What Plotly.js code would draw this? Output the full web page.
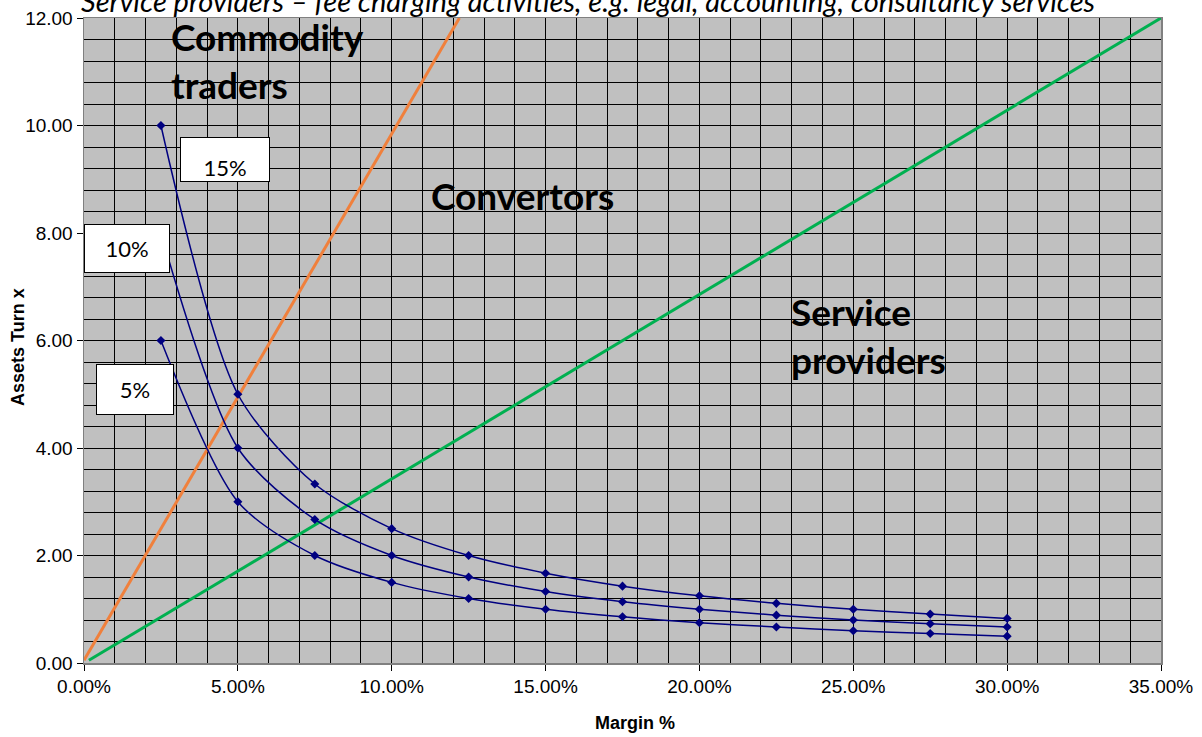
<!DOCTYPE html>
<html><head><meta charset="utf-8">
<script src="https://cdn.plot.ly/plotly-3.0.1.min.js"></script>
<style>body{margin:0;background:#fff}#chart{width:1202px;height:737px}</style>
</head><body><div id="chart"></div>
<script>
const margins = [2.5, 5, 7.5, 10, 12.5, 15, 17.5, 20, 22.5, 25, 27.5, 30];
const turnTop = [10.00, 5.00, 3.33, 2.50, 2.00, 1.67, 1.43, 1.25, 1.11, 1.00, 0.91, 0.83];
const turnMid = [8.00, 4.00, 2.67, 2.00, 1.60, 1.33, 1.14, 1.00, 0.89, 0.80, 0.73, 0.67];
const turnLow = [6.00, 3.00, 2.00, 1.50, 1.20, 1.00, 0.86, 0.75, 0.67, 0.60, 0.55, 0.50];
const orangeX = [0.0, 12.2];
const orangeY = [0.05, 12.0];
const greenX = [0.16, 35];
const greenY = [0.05, 12.0];
const curveLabels = ['15%', '10%', '5%'];
const regionLabels = ['Commodity<br>traders', 'Convertors', 'Service<br>providers'];
const titleText = 'Service providers – fee charging activities, e.g. legal, accounting, consultancy services';
const xTitle = 'Margin %';
const yTitle = 'Assets Turn x';

const navy = '#000080';
function curve(y) {
  return {x: margins, y: y, mode: 'lines+markers', type: 'scatter',
    line: {color: navy, width: 1.5, shape: 'spline', smoothing: 0.8},
    marker: {symbol: 'diamond', size: 7, color: navy}, showlegend: false, hoverinfo: 'skip'};
}
const traces = [
  {x: orangeX, y: orangeY, mode: 'lines', line: {color: '#F0803C', width: 3}, showlegend: false},
  {x: greenX, y: greenY, mode: 'lines', line: {color: '#00B050', width: 3}, showlegend: false},
  {x: greenX, y: greenY, xaxis: 'x2', yaxis: 'y2', mode: 'lines', line: {color: 'rgba(0,0,0,0)', width: 0}, showlegend: false, hoverinfo: 'skip'},
  curve(turnTop), curve(turnMid), curve(turnLow)
];
const boldFont = {family: 'Lato, "Open Sans", sans-serif', size: 37, color: '#000', weight: 700};
const boxFont = {family: 'Lato, "Open Sans", sans-serif', size: 22, color: '#000'};
const tickFont = {family: '"Liberation Sans", Arial, sans-serif', size: 19, color: '#000'};
const axTitleFont = {family: '"Liberation Sans", Arial, sans-serif', size: 18, color: '#000', weight: 700};
const layout = {
  width: 1202, height: 737,
  margin: {l: 84, r: 41, t: 18, b: 74},
  paper_bgcolor: '#fff', plot_bgcolor: '#C0C0C0',
  xaxis: {range: [0, 35], tick0: 0, dtick: 5, tickformat: '.2f', ticksuffix: '%', showgrid: false,
    ticks: 'outside', ticklen: 6, tickcolor: '#000', zeroline: false,
    showline: true, linecolor: '#808080', linewidth: 1.5, mirror: true,
    tickfont: tickFont},
  yaxis: {range: [0, 12], tick0: 0, dtick: 2, tickformat: '.2f', showgrid: false,
    ticks: 'outside', ticklen: 6, tickcolor: '#000', zeroline: false,
    showline: true, linecolor: '#808080', linewidth: 1.5, mirror: true,
    tickfont: tickFont},
  xaxis2: {range: [0, 35], overlaying: 'x', tickmode: 'linear', tick0: 0, dtick: 1, showgrid: true, gridcolor: '#000', gridwidth: 1,
    showticklabels: false, ticks: '', zeroline: false, showline: false, layer: 'below traces'},
  yaxis2: {range: [0, 12], overlaying: 'y', tickmode: 'linear', tick0: 0, dtick: 0.4, showgrid: true, gridcolor: '#000', gridwidth: 1,
    showticklabels: false, ticks: '', zeroline: false, showline: false, layer: 'below traces'},
  annotations: [
    {text: titleText, xref: 'paper', yref: 'paper', x: 0.468, y: 1, yanchor: 'bottom', xanchor: 'center', yshift: -2, showarrow: false,
      font: {family: 'Lato, "Open Sans", sans-serif', size: 29, color: '#000', style: 'italic'}},
    {text: xTitle, xref: 'paper', yref: 'paper', x: 0.5116, y: -0.093, xanchor: 'center', yanchor: 'middle', showarrow: false, font: axTitleFont},
    {text: yTitle, xref: 'paper', yref: 'paper', x: -0.0613, y: 0.49, xanchor: 'center', yanchor: 'middle', textangle: -90, showarrow: false, font: axTitleFont},
    {text: regionLabels[0], x: 2.77, y: 11.98, xanchor: 'left', yanchor: 'top', yshift: 7, align: 'left', showarrow: false, font: boldFont},
    {text: regionLabels[1], x: 11.2, y: 8.7, xanchor: 'left', yanchor: 'middle', align: 'left', showarrow: false, font: boldFont},
    {text: regionLabels[2], x: 22.9, y: 7.0, xanchor: 'left', yanchor: 'top', align: 'left', showarrow: false, font: boldFont},
    {text: curveLabels[0], x: 4.58, y: 9.36, showarrow: false, width: 88, height: 43, valign: 'bottom', bgcolor: '#fff', bordercolor: '#000', borderwidth: 1, borderpad: 0, font: boxFont},
    {text: curveLabels[1], x: 1.40, y: 7.72, showarrow: false, width: 84, height: 47, bgcolor: '#fff', bordercolor: '#000', borderwidth: 1, borderpad: 0, font: boxFont},
    {text: curveLabels[2], x: 1.66, y: 5.08, showarrow: false, width: 76, height: 49, bgcolor: '#fff', bordercolor: '#000', borderwidth: 1, borderpad: 0, font: boxFont}
  ]
};
Plotly.newPlot('chart', traces, layout, {displayModeBar: false, staticPlot: true});
</script></body></html>
